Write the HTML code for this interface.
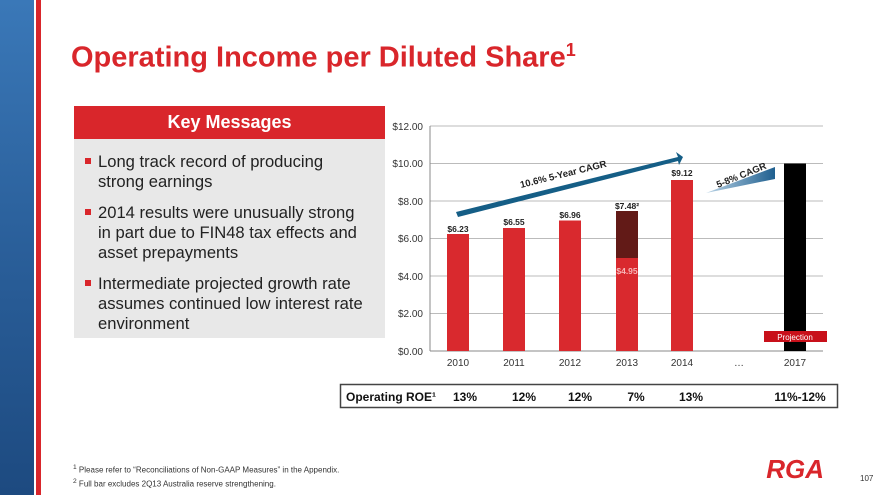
<!DOCTYPE html>
<html><head><style>
body{margin:0;width:880px;height:495px;position:relative;overflow:hidden;background:#fff;font-family:"Liberation Sans",sans-serif}
.a{position:absolute}
ul{margin:0;padding:0;list-style:none}
li{position:relative;padding-left:13px;font-size:16.6px;line-height:20px;color:#222;margin-bottom:11px;white-space:nowrap}
li:before{content:"";position:absolute;left:0;top:6px;width:6px;height:6px;background:#d9262b}
</style></head><body>
<div class="a" style="left:0;top:0;width:34px;height:495px;background:linear-gradient(180deg,#3a78b8,#2a5f9a 50%,#1d4a80)"></div>
<div class="a" style="left:36px;top:0;width:5px;height:495px;background:#d9262b"></div>
<div class="a" style="left:71px;top:40px;font-size:29px;font-weight:bold;color:#d9262b">Operating Income per Diluted Share<sup style="font-size:18px">1</sup></div>
<div class="a" style="left:74px;top:106px;width:311px;height:33px;background:#d9262b;color:#fff;font-weight:bold;font-size:18px;text-align:center;line-height:33px">Key Messages</div>
<div class="a" style="left:74px;top:139px;width:311px;height:199px;background:#e8e8e8"></div>
<ul class="a" style="left:85px;top:152px;width:290px">
<li>Long track record of producing<br>strong earnings</li>
<li>2014 results were unusually strong<br>in part due to FIN48 tax effects and<br>asset prepayments</li>
<li>Intermediate projected growth rate<br>assumes continued low interest rate<br>environment</li>
</ul>
<svg class="a" style="left:0;top:0" width="880" height="495">
<g stroke="#bbb" stroke-width="1">
<line x1="430" x2="823" y1="126" y2="126"/><line x1="430" x2="823" y1="163.5" y2="163.5"/><line x1="430" x2="823" y1="201" y2="201"/><line x1="430" x2="823" y1="238.5" y2="238.5"/><line x1="430" x2="823" y1="276" y2="276"/><line x1="430" x2="823" y1="313.5" y2="313.5"/>
</g>
<line x1="430" x2="430" y1="126" y2="351" stroke="#888"/>
<line x1="430" x2="823" y1="351" y2="351" stroke="#888"/>
<g font-size="10" fill="#333" text-anchor="end">
<text x="423" y="130">$12.00</text><text x="423" y="167">$10.00</text><text x="423" y="205">$8.00</text><text x="423" y="242">$6.00</text><text x="423" y="280">$4.00</text><text x="423" y="317">$2.00</text><text x="423" y="355">$0.00</text>
</g>
<g fill="#d9292e">
<rect x="447" y="234" width="22" height="117"/><rect x="503" y="228" width="22" height="123"/><rect x="559" y="220.5" width="22" height="130.5"/><rect x="616" y="258" width="22" height="93"/><rect x="671" y="180" width="22" height="171"/>
</g>
<rect x="616" y="211" width="22" height="47" fill="#621a17"/>
<rect x="784" y="163.5" width="22" height="187.5" fill="#000"/>
<rect x="764" y="331" width="63" height="11" fill="#c8101a"/>
<text x="795" y="340" font-size="8" fill="#fff" text-anchor="middle">Projection</text>
<g font-size="8.5" font-weight="bold" fill="#222" text-anchor="middle">
<text x="458" y="232">$6.23</text><text x="514" y="225">$6.55</text><text x="570" y="218">$6.96</text><text x="627" y="209">$7.48²</text><text x="682" y="176">$9.12</text>
</g>
<text x="627" y="274" font-size="8.5" font-weight="bold" text-anchor="middle" style="fill:#f7b6b8">$4.95</text>
<g font-size="10" fill="#333" text-anchor="middle">
<text x="458" y="366">2010</text><text x="514" y="366">2011</text><text x="570" y="366">2012</text><text x="627" y="366">2013</text><text x="682" y="366">2014</text><text x="739" y="366">…</text><text x="795" y="366">2017</text>
</g>
<polygon points="456,212 678,157 676,152 683,157 679,165 678,161 458,217" fill="#155e86"/>
<text x="0" y="0" font-size="9.5" font-weight="bold" fill="#222" transform="translate(521,188) rotate(-14)">10.6% 5-Year CAGR</text>
<defs><linearGradient id="g" x1="0" x2="1"><stop offset="0" stop-color="#b9d3e6"/><stop offset="1" stop-color="#1f5f8f"/></linearGradient></defs>
<polygon points="706,193 775,167 775,179" fill="url(#g)"/>
<text x="0" y="0" font-size="9.5" font-weight="bold" fill="#222" transform="translate(718,188) rotate(-22)">5-8% CAGR</text>
<rect x="340.5" y="384.5" width="497" height="23" fill="none" stroke="#444" stroke-width="1.5"/>
<g font-size="12" font-weight="bold" fill="#111" text-anchor="middle">
<text x="346" y="401" text-anchor="start">Operating ROE¹</text><text x="465" y="401">13%</text><text x="524" y="401">12%</text><text x="580" y="401">12%</text><text x="636" y="401">7%</text><text x="691" y="401">13%</text><text x="800" y="401">11%-12%</text>
</g>
<text x="824" y="478" font-size="26" font-weight="bold" fill="#d9262b" text-anchor="end" font-style="italic">RGA</text>
<text x="860" y="481" font-size="8" fill="#333">107</text>
</svg>
<div class="a" style="left:73px;top:462px;font-size:8px;color:#333;line-height:11px"><sup>1</sup> Please refer to “Reconciliations of Non-GAAP Measures” in the Appendix.<br><sup>2</sup> Full bar excludes 2Q13 Australia reserve strengthening.</div>
</body></html>
